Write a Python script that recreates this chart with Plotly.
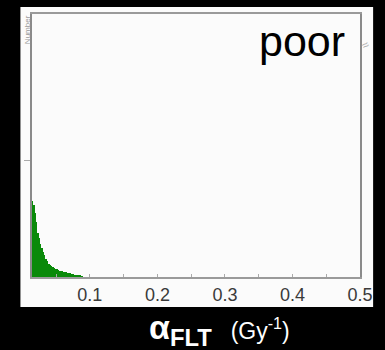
import plotly.graph_objects as go

# Histogram of fitted alpha values (bin centres in Gy^-1, counts per bin)
bin_centers = [0.015, 0.017, 0.019, 0.021, 0.023, 0.025, 0.027, 0.029, 0.031, 0.033,
               0.035, 0.037, 0.039, 0.041, 0.043, 0.045, 0.047, 0.049, 0.051, 0.053,
               0.055, 0.057, 0.059, 0.061, 0.063, 0.065, 0.067, 0.069, 0.071, 0.073,
               0.075, 0.077, 0.079, 0.081, 0.083, 0.085, 0.087, 0.089]
counts = [130, 124, 110, 94, 76, 66, 57, 49, 42, 37,
          31, 28, 23, 21, 19, 17, 15, 14, 13, 12,
          11, 10, 10, 9, 8, 8, 7, 7, 6, 5,
          5, 4, 3, 3, 2, 2, 1, 1]
bin_width = 0.002

x_ticks = [0.1, 0.2, 0.3, 0.4, 0.5]
x_tick_labels = ["0.1", "0.2", "0.3", "0.4", "0.5"]
panel_label = "poor"

fig = go.Figure()
fig.add_trace(go.Bar(
    x=bin_centers, y=counts, width=bin_width,
    marker=dict(color="#0a8a0a", line=dict(width=0)),
    hoverinfo="skip",
))

fig.update_layout(
    width=385, height=350,
    margin=dict(l=32, r=13, t=14, b=73),
    paper_bgcolor="black",
    plot_bgcolor="#f5f6f4",
    showlegend=False,
    bargap=0,
    shapes=[
        # white figure panel behind the axes
        dict(type="rect", xref="paper", yref="paper", layer="below",
             x0=-12 / 340, x1=1.04, y0=-30 / 263, y1=1 + 7 / 263,
             fillcolor="#fbfbfb", line=dict(width=0)),
    ],
    annotations=[
        dict(text=panel_label, xref="paper", yref="paper", x=(359 - 32) / 340,
             y=1 - 27 / 263, xanchor="right", yanchor="middle", showarrow=False,
             font=dict(family="Liberation Sans, Arial", size=43, color="black")),
        dict(text="<b>α</b><sub><b>FLT</b></sub>  <span style='font-size:23px'>(Gy<sup>-1</sup>)</span>",
             xref="paper", yref="paper", x=(226 - 32) / 340, y=-(329 - 277) / 263,
             xanchor="center", yanchor="middle", showarrow=False,
             font=dict(family="Liberation Sans, Arial", size=34, color="white")),
        dict(text="Number", xref="paper", yref="paper", x=-4 / 340, y=1 - 16 / 263,
             textangle=-90, xanchor="center", yanchor="middle", showarrow=False,
             font=dict(family="Liberation Sans, Arial", size=8, color="#9a9a9a")),
        dict(text="≈", xref="paper", yref="paper", x=1 + 6 / 340, y=1 - 31 / 263,
             textangle=-30, xanchor="center", yanchor="middle", showarrow=False,
             font=dict(family="Liberation Sans, Arial", size=12, color="#b0b0b0")),
    ],
)

fig.update_xaxes(
    range=[0.0143, 0.5], tickvals=x_ticks, ticktext=x_tick_labels,
    ticks="inside", ticklen=3, tickcolor="#aaaaaa",
    minor=dict(dtick=0.05, ticks="inside", ticklen=3, tickcolor="#aaaaaa"),
    showgrid=False, zeroline=False,
    showline=True, linecolor="#9a9a9a", linewidth=2, mirror=True,
    tickfont=dict(family="Liberation Sans, Arial", size=18, color="#3a3a3a"),
)
fig.update_yaxes(
    range=[0, 450], tickvals=[200], showticklabels=False,
    ticks="outside", ticklen=6, tickcolor="#aaaaaa",
    showgrid=False, zeroline=False,
    showline=True, linecolor="#8a8a8a", linewidth=2, mirror=True,
)

fig.write_html("out.html")
